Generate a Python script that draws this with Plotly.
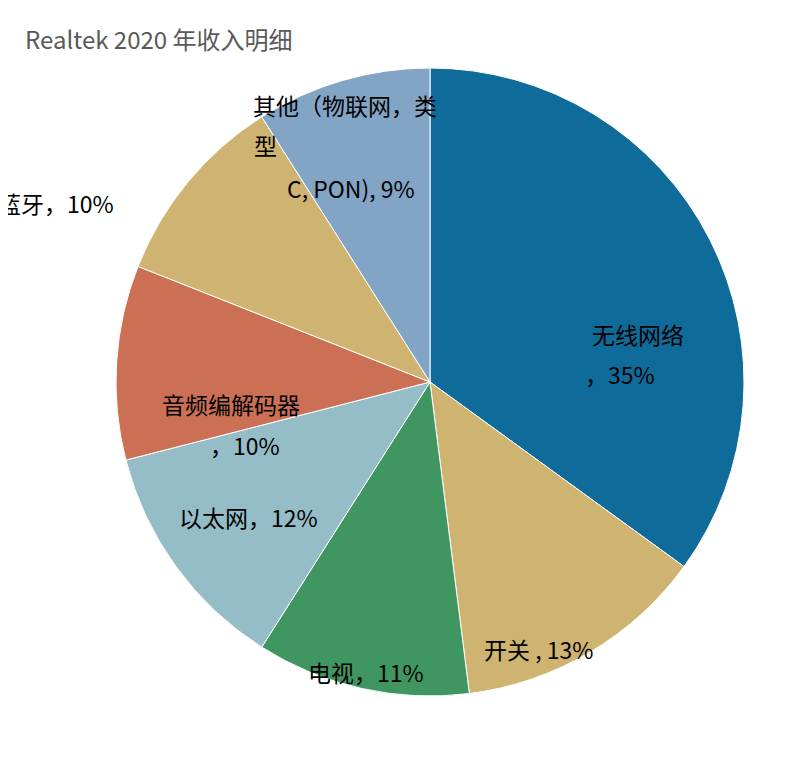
import plotly.graph_objects as go

labels = ["无线网络", "开关", "电视", "以太网", "音频编解码器", "蓝牙", "其他（物联网，类型C, PON)"]
values = [35, 13, 11, 12, 10, 10, 9]
colors = ["#0f6b9a", "#cfb370", "#3f9660", "#95bdc7", "#cb7055", "#cfb370", "#82a5c6"]

W, H = 801, 765
cx, cy, r = 422, 374, 314
fig = go.Figure(go.Pie(
    labels=labels, values=values, sort=False, direction="clockwise", rotation=0,
    marker=dict(colors=colors, line=dict(color="white", width=1)),
    textinfo="none", hoverinfo="label+percent",
    domain=dict(x=[(cx-r)/W, (cx+r)/W], y=[1-(cy+r)/H, 1-(cy-r)/H]),
    showlegend=False,
))

lab = [
    ("无线网络", 630, 326, "center"),
    ("，35%", 612, 366, "center"),
    ("开关 , 13%", 530, 641, "center"),
    ("电视，11%", 358, 664, "center"),
    ("以太网，12%", 240, 509, "center"),
    ("音频编解码器", 223, 396, "center"),
    ("，10%", 237, 437, "center"),
    ("蓝牙，10%", 108, 195, "right"),
    ("其他（物联网，类", 243, 97, "left"),
    ("型", 244, 137, "left"),
    ("C, PON), 9%", 277, 180, "left"),
]
ann = []
for t, x, y, xa in lab:
    ann.append(dict(text=t, x=x/W, y=1-y/H, xref="paper", yref="paper", xanchor=xa, yanchor="middle",
                    showarrow=False, font=dict(family="Noto Sans CJK SC, Liberation Sans", size=23, color="black")))
ann.append(dict(text="Realtek 2020 年收入明细", x=286/W, y=1-31/H, xref="paper", yref="paper",
                xanchor="right", yanchor="middle", showarrow=False,
                font=dict(family="Noto Sans CJK SC, Liberation Sans", size=24, color="#595959")))

fig.update_layout(width=W, height=H, margin=dict(l=0, r=0, t=0, b=0),
                  paper_bgcolor="white", annotations=ann)
fig.write_html("out.html")
